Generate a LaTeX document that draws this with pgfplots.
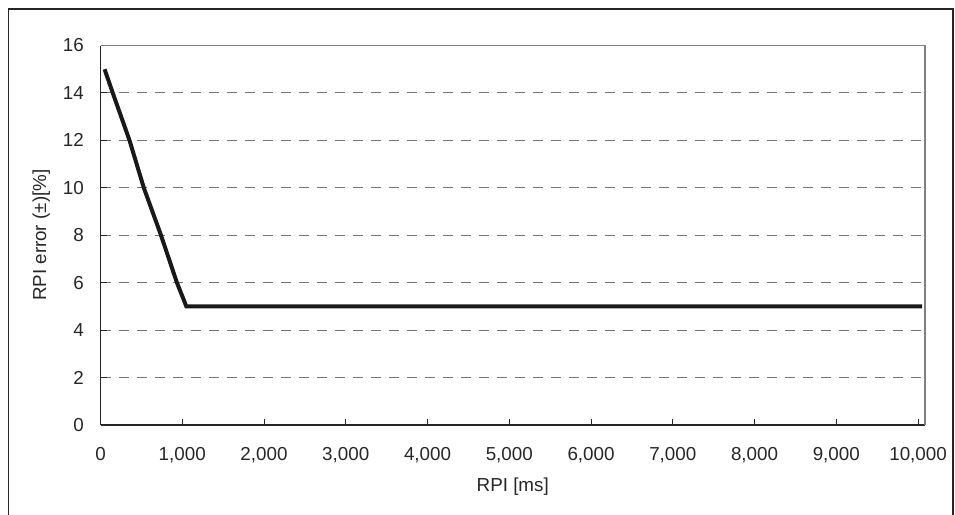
\documentclass[border=0pt]{standalone}
\usepackage{fontspec}
\setmainfont{Liberation Sans}
\usepackage{pgfplots}
\pgfplotsset{compat=1.18}
\begin{document}
\fontsize{9.4}{11}\selectfont
\begin{tikzpicture}[x=1pt,y=1pt]
\useasboundingbox (0,0) rectangle (477.5,257.5);
\draw[line width=0.6pt,black!85] (4.3,-5) -- (4.3,253) -- (476.5,253) -- (476.5,-5);
\begin{axis}[
  at={(50.25pt,45pt)}, anchor=south west,
  width=412.25pt, height=189.75pt, scale only axis,
  xmin=0, xmax=10085, ymin=0, ymax=16,
  xtick={0,1000,...,10000}, ytick={0,2,...,16},
  scaled ticks=false,
  axis x line*=bottom, axis y line*=left,
  axis line style={-, line width=0.6pt, black!85},
  tick style={line width=0.5pt, black!85},
  tick align=inside, major tick length=3pt,
  /pgf/number format/.cd, fixed, 1000 sep={,}, assume math mode=true, /pgfplots/.cd,
  ticklabel style={font=\fontsize{9.4}{11}\selectfont, text=black!85},
  xticklabel style={yshift=-8pt},
  yticklabel style={xshift=-5pt},
  ymajorgrids, grid style={dash pattern=on 5pt off 4pt, line width=0.5pt, black!55},
  xlabel={RPI [ms]}, ylabel={RPI error (±)[\%]},
  label style={font=\fontsize{9.4}{11}\selectfont, text=black!85},
  xlabel style={yshift=-1pt},
  ylabel style={yshift=0pt},
  clip=false,
]
\addplot[black!90, line width=2pt, line join=miter] coordinates {
(50,15) (150,14) (355,12) (530,10) (740,8) (935,6) (1050,5) (10050,5)
};
\draw[black!50, line width=0.6pt] (rel axis cs:0,1) -- (rel axis cs:1,1) -- (rel axis cs:1,0);
\end{axis}
\end{tikzpicture}
\end{document}
